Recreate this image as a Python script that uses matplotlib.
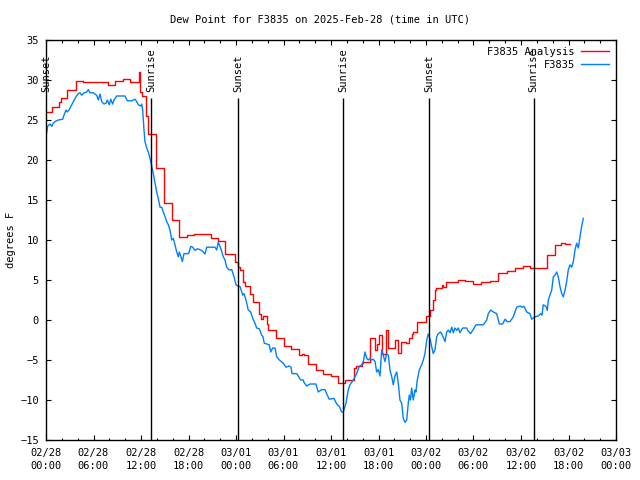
import matplotlib
matplotlib.use("Agg")
import matplotlib.pyplot as plt

# time in hours since 2025-02-28 00:00 UTC
analysis_hours = [0.0, 0.7, 1.6, 1.9, 2.7, 3.8, 4.7, 7.8, 8.7, 9.7, 10.6, 11.7, 11.85, 12.1,
                  12.6, 12.9, 13.9, 14.9, 15.9, 16.8, 17.8, 18.7, 20.9, 21.7, 22.6, 23.9, 24.2,
                  24.5, 24.9, 25.1, 25.8, 26.1, 26.9, 27.1, 27.4, 27.9, 28.1, 29.0, 30.0, 30.9,
                  32.0, 32.3, 32.6, 33.1, 34.1, 35.0, 36.0, 36.9, 37.8, 38.9, 39.2, 39.9, 40.0,
                  40.9, 41.6, 41.8, 42.0, 42.4, 43.0, 43.2, 44.1, 44.5, 44.9, 45.5, 45.8, 46.2,
                  46.4, 46.9, 48.0, 48.5, 48.9, 49.1, 49.3, 50.0, 50.2, 50.5, 51.2, 52.1, 52.9,
                  54.0, 55.0, 56.1, 57.1, 58.2, 59.2, 60.2, 61.1, 63.3, 64.3, 65.1, 65.6, 66.2]
analysis_dewpt = [26.0, 26.6, 27.3, 27.7, 28.8, 29.9, 29.7, 29.4, 29.9, 30.1, 29.8, 31.0, 28.5, 28.0,
                  25.5, 23.2, 19.0, 14.6, 12.5, 10.4, 10.6, 10.7, 10.2, 9.9, 8.3, 7.3, 6.6,
                  6.25, 4.75, 4.25, 3.2, 2.2, 0.8, 0.1, 0.5, -0.5, -1.25, -2.3, -3.2, -3.6,
                  -4.4, -4.25, -4.4, -5.5, -6.25, -6.7, -7.0, -7.9, -7.5, -6.0, -5.8, -5.4, -5.2,
                  -2.3, -3.75, -3.0, -1.9, -4.3, -1.25, -3.5, -2.5, -4.1, -2.7, -2.9, -2.3, -1.7,
                  -1.5, -0.3, 0.5, 1.25, 2.5, 3.75, 4.0, 4.4, 4.1, 4.7, 4.8, 4.96, 4.9,
                  4.45, 4.75, 4.9, 5.9, 6.1, 6.45, 6.7, 6.45, 8.1, 9.4, 9.6, 9.5, 9.5]

obs_hours = [0.09, 0.19, 0.51, 0.72, 0.92, 1.14, 1.55, 2.11, 2.27, 2.53, 2.69, 2.94, 3.25, 3.45,
             3.79, 4.08, 4.29, 4.51, 4.80, 5.14, 5.34, 5.56, 5.97, 6.40, 6.61, 6.82, 7.04, 7.33,
             7.58, 7.74, 8.00, 8.17, 8.42, 8.59, 8.93, 9.98, 10.27, 10.82, 11.24, 11.46, 11.66,
             11.96, 12.09, 12.21, 12.29, 12.38, 12.50, 12.72, 12.92, 13.14, 13.35, 13.55, 13.77,
             13.98, 14.18, 14.40, 14.61, 14.82, 15.03, 15.25, 15.45, 15.66, 15.88, 16.08, 16.29,
             16.51, 16.71, 16.84, 17.05, 17.22, 17.43, 17.77, 18.02, 18.28, 18.53, 18.82, 19.11,
             19.45, 19.79, 20.08, 20.30, 21.35, 21.56, 21.76, 21.98, 22.19, 22.39, 22.61, 22.82,
             23.15, 23.46, 23.75, 24.00, 24.29, 24.50, 24.85, 25.01, 25.26, 25.55, 25.86, 26.11,
             26.40, 26.61, 26.94, 27.25, 27.41, 27.57, 28.21, 28.38, 28.63, 28.93, 29.14, 29.47,
             29.97, 30.31, 30.73, 30.95, 31.07, 31.67, 32.17, 32.50, 32.59, 32.93, 33.35, 34.10,
             34.39, 34.82, 35.24, 35.46, 35.78, 36.38, 36.72, 37.05, 37.35, 37.55, 37.89, 38.18,
             38.40, 38.81, 39.24, 39.57, 39.88, 40.08, 40.29, 40.51, 40.71, 40.92, 41.14, 41.34,
             41.56, 41.77, 41.97, 42.19, 42.40, 42.60, 42.82, 43.03, 43.24, 43.45, 43.67, 43.87,
             44.08, 44.30, 44.50, 44.71, 44.93, 45.13, 45.35, 45.56, 45.76, 45.89, 46.04, 46.19,
             46.39, 46.61, 46.73, 46.90, 47.15, 47.45, 47.66, 47.87, 48.09, 48.29, 48.50, 48.71,
             48.92, 49.13, 49.35, 49.55, 49.85, 50.11, 50.40, 50.61, 50.82, 51.03, 51.25, 51.45,
             51.66, 51.88, 52.08, 52.29, 52.63, 53.14, 53.34, 53.64, 53.97, 54.31, 55.24, 55.67,
             55.87, 56.17, 56.50, 56.93, 57.26, 57.69, 57.98, 58.27, 58.61, 59.03, 59.45, 59.87,
             60.12, 60.38, 60.72, 61.13, 61.35, 61.77, 62.18, 62.49, 62.65, 62.81, 63.16, 63.32,
             63.45, 63.66, 63.88, 64.08, 64.29, 64.51, 64.71, 64.92, 65.14, 65.34, 65.56, 65.77,
             65.97, 66.19, 66.40, 66.61, 66.82, 67.03, 67.24, 67.45, 67.66, 67.87]
obs_dewpt = [23.4, 24.2, 24.5, 24.2, 24.6, 24.8, 25.0, 25.1, 25.6, 26.25, 26.0, 26.3, 26.9, 27.3,
             27.9, 28.3, 28.4, 28.1, 28.4, 28.5, 28.8, 28.4, 28.4, 28.1, 27.5, 28.25, 27.3, 27.0,
             27.1, 27.5, 26.9, 27.6, 27.0, 27.5, 28.0, 28.0, 27.4, 27.4, 27.6, 27.3, 26.9,
             26.75, 27.0, 26.25, 25.0, 23.75, 22.3, 21.5, 21.0, 20.2, 19.2, 18.3, 17.1,
             16.0, 15.2, 14.1, 14.1, 13.5, 12.9, 12.3, 11.9, 11.25, 10.0, 10.2, 9.4,
             8.5, 7.9, 8.5, 7.9, 7.3, 8.3, 8.3, 8.3, 9.2, 9.1, 8.7, 8.9,
             8.8, 8.6, 8.25, 9.1, 9.1, 8.75, 9.7, 9.2, 8.6, 7.9, 7.5, 6.6,
             6.25, 6.3, 5.4, 4.4, 4.2, 4.2, 3.1, 3.3, 2.5, 1.25, 1.0, 0.2,
             -0.4, -1.0, -1.1, -1.9, -2.1, -2.9, -3.1, -4.0, -3.5, -3.5, -4.6, -5.0,
             -5.4, -5.9, -5.75, -5.9, -6.7, -6.7, -7.5, -7.5, -7.8, -8.25, -8.0, -8.0,
             -9.0, -8.7, -8.7, -9.25, -9.9, -9.8, -10.5, -10.8, -11.5, -11.5, -10.4, -8.75,
             -8.1, -7.5, -6.7, -5.8, -5.6, -5.2, -4.0, -4.8, -5.0, -4.8, -5.0, -4.9,
             -5.2, -6.5, -6.2, -7.0, -3.75, -4.4, -5.2, -4.2, -4.4, -6.25, -7.1, -8.1,
             -7.0, -6.5, -7.9, -10.0, -10.4, -12.3, -12.8, -12.5, -10.4, -9.4, -10.0, -8.5,
             -10.0, -8.75, -9.0, -7.5, -6.25, -5.6, -5.0, -4.2, -2.5, -1.75, -2.3, -3.3,
             -4.2, -3.75, -2.1, -1.7, -1.5, -2.0, -2.7, -1.5, -1.25, -1.6, -0.9, -1.6,
             -1.0, -1.3, -1.0, -1.6, -1.0, -1.0, -1.4, -1.7, -1.2, -0.6, -0.6, 0.0,
             0.8, 1.25, 1.0, 0.8, -0.5, -0.5, 0.1, -0.2, -0.2, 0.4, 1.6, 1.75,
             1.6, 1.7, 1.0, 0.8, 0.1, 0.4, 0.5, 0.8, 0.6, 1.9, 1.7, 1.2,
             2.5, 3.1, 3.75, 5.4, 5.6, 6.0, 5.4, 4.2, 3.3, 2.9, 3.75, 4.8,
             6.25, 6.9, 6.6, 7.3, 8.75, 9.6, 9.0, 10.4, 11.7, 12.7]

sun_hours = [0.0, 13.26, 24.25, 37.5, 48.4, 61.6]
sun_labels = ["Sunset", "Sunrise", "Sunset", "Sunrise", "Sunset", "Sunrise"]

tick_hours = list(range(0, 73, 6))
tick_labels = ["02/28\n00:00", "02/28\n06:00", "02/28\n12:00", "02/28\n18:00",
               "03/01\n00:00", "03/01\n06:00", "03/01\n12:00", "03/01\n18:00",
               "03/02\n00:00", "03/02\n06:00", "03/02\n12:00", "03/02\n18:00",
               "03/03\n00:00"]

plt.rcParams["font.family"] = "DejaVu Sans Mono"
plt.rcParams["font.size"] = 7.5

fig = plt.figure(figsize=(6.4, 4.8), dpi=100)
ax = fig.add_axes([46 / 640, 40 / 480, 570 / 640, 400 / 480])

ax.plot(analysis_hours, analysis_dewpt, color="#ff0000", lw=1.0, drawstyle="steps-post",
        label="F3835 Analysis")
ax.plot(obs_hours, obs_dewpt, color="#0080ff", lw=1.0, label="F3835")

# sunrise / sunset markers
for h, lab in zip(sun_hours, sun_labels):
    if h > 0:
        ax.vlines(h, -15, 27.75, color="black", lw=1.0)
    ax.text(h, 28.5, lab, rotation=90, ha="center", va="bottom")

ax.set_xlim(0, 72)
ax.set_ylim(-15, 35)
ax.set_xticks(tick_hours)
ax.set_xticklabels(tick_labels, linespacing=1.3)
ax.set_xticks(range(0, 73, 2), minor=True)
ax.set_yticks(range(-15, 36, 5))
ax.tick_params(which="both", direction="in", top=True, right=True, color="black")
ax.tick_params(which="major", length=3.5, width=0.8)
ax.tick_params(which="minor", length=1.8, width=0.8)
ax.tick_params(axis="x", pad=6)
ax.tick_params(axis="y", pad=5)
for sp in ax.spines.values():
    sp.set_linewidth(1.0)

ax.set_ylabel("degrees F", labelpad=3)
fig.text(0.5, 1 - 19 / 480, "Dew Point for F3835 on 2025-Feb-28 (time in UTC)",
         ha="center", va="center")

ax.legend(loc="upper right", frameon=False, markerfirst=False, handlelength=2.7,
          handletextpad=0.6, labelspacing=0.3, borderaxespad=0.45, borderpad=0.2)

fig.savefig("out.png", dpi=100)
